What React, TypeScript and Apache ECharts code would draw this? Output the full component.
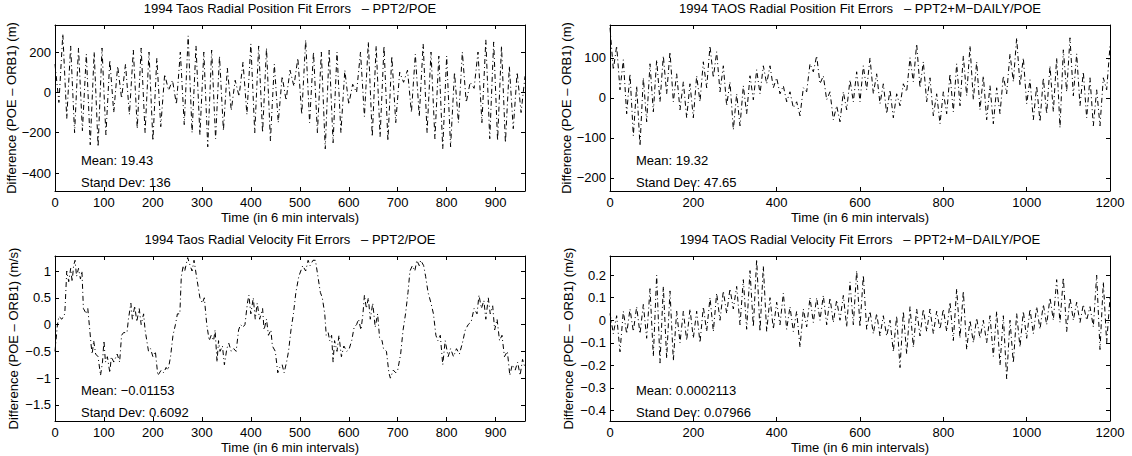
import React, { useEffect, useRef } from "react";
import * as echarts from "echarts";

// ---------- data ----------
const STEP = 8; // sampling step (6-min intervals) of the uniform series

const posPPT2: number[] = [
  140, -50, 290, -130, 230, -200, 220, -190, 190, -260, 200, -270, 220, -210, 160, -100,
  130, -30, 140, -110, 210, -180, 220, -200, 200, -240, 170, -170, 90, 10, 60, -60,
  200, -160, 280, -200, 230, -210, 200, -270, 210, -230, 180, -190, 120, -90, 60, -20,
  150, -110, 240, -200, 230, -200, 220, -240, 140, -150, 80, -40, 110, 30, 170, -110,
  260, -150, 200, -200, 200, -280, 210, -250, 200, -200, 110, -60, 40, 0, 200, -120,
  250, -220, 230, -220, 230, -240, 180, -150, 100, 50, 110, -100, 190, -120, 240, -200,
  200, -230, 180, -280, 180, -270, 100, -150, 200, -50, 50, 20, 200, -150, 260, -230,
  250, -240, 230, -250, 130, -180, 100, -100, 80,
];

const posDaily: number[] = [
  175, 70, 130, 20, 95, -40, 60, -95, 30, -120, 50, -60, 85, -35, 95, -10,
  105, 10, 115, -10, 60, -30, 40, -50, 35, -50, 55, -10, 90, 25, 130, 50,
  115, 15, 80, -20, 40, -80, 10, -70, 30, -40, 55, -5, 70, 10, 80, 35,
  80, 25, 50, 10, 30, -10, 15, -25, -10, -45, 25, 15, 85, 65, 105, 35,
  55, -5, 15, -55, -20, -60, 15, -30, 45, -10, 65, -10, 80, 20, 100, 10,
  60, -15, 35, -40, 20, -50, 10, -20, 35, 15, 100, 40, 135, 25, 90, -10,
  50, -45, 10, -65, 15, -40, 60, -35, 85, -20, 105, 5, 130, -5, 90, -30,
  55, -55, 30, -65, 25, -40, 55, 10, 110, 40, 150, 30, 100, -15, 45, -55,
  30, -60, 50, -40, 80, -35, 100, -75, 120, 15, 150, 5, 110, -20, 65, -50,
  50, -70, 20, -70, 50, 20, 130,
];

const velX: number[] = [
  0, 5, 8, 14, 20, 24, 28, 32, 35, 38, 41, 44, 48, 52, 55, 58, 64, 67, 74, 76, 79, 83, 88, 93, 97,
  100, 103, 107, 112, 115, 120, 127, 132, 136, 140, 147, 150, 155, 158, 163, 167, 172, 176, 181, 184,
  191, 195, 200, 205, 210, 217, 222, 227, 231, 236, 241, 246, 250, 255, 258, 262, 265, 271, 276, 280,
  284, 289, 296, 301, 305, 310, 315, 319, 324, 327, 331, 334, 337, 342, 346, 351, 355, 360, 365, 370,
  375, 379, 384, 388, 393, 396, 400, 405, 409, 413, 418, 424, 427, 432, 436, 441, 444, 450, 455, 459,
  464, 468, 473, 477, 482, 487, 492, 498, 502, 506, 512, 517, 521, 527, 532, 537, 542, 546, 551, 554,
  558, 561, 565, 568, 571, 576, 580, 585, 590, 596, 601, 606, 611, 616, 620, 625, 629, 632, 636, 640,
  644, 649, 654, 659, 663, 668, 671, 677, 682, 685, 691, 696, 700, 706, 711, 716, 721, 725, 730, 735,
  739, 744, 747, 753, 757, 762, 768, 773, 778, 782, 787, 792, 797, 803, 808, 814, 820, 826, 832, 838,
  844, 850, 856, 862, 866, 871, 876, 880, 885, 889, 894, 898, 903, 908, 913, 918, 924, 929, 934, 940,
  945, 950, 955, 960,
];
const velY: number[] = [
  -0.5, 0.0, 0.15, 0.1, 0.2, 1.0, 0.8, 1.05, 0.8, 1.1, 1.2, 0.9, 1.05, 0.85, 1.0, 0.3, 0.2, 0.3, -0.4, -0.55, -0.3, -0.55, -0.6, -0.95, -0.7,
  -0.3, -0.7, -0.6, -0.9, -0.6, -0.7, -0.55, -0.7, -0.2, -0.15, -0.15, 0.1, 0.4, 0.1, 0.35, 0.05, 0.3, 0.0, 0.2, -0.1,
  -0.5, -0.45, -0.6, -0.5, -0.95, -0.85, -0.9, -0.8, -0.85, -0.6, -0.2, 0.0, 0.2, 0.2, 0.9, 1.1, 1.0, 1.25, 1.1, 1.0,
  1.2, 0.9, 0.5, 0.4, 0.5, 0.0, -0.3, -0.2, -0.3, -0.1, -0.7, -0.3, -0.5, -0.4, -0.75, -0.45, -0.35, -0.5, -0.45, -0.5,
  -0.1, 0.0, -0.05, 0.0, 0.4, 0.55, 0.2, 0.5, 0.1, 0.4, 0.1, 0.3, -0.1, 0.1, -0.2, -0.1, -0.4, -0.5, -0.9, -0.8,
  -0.75, -0.9, -0.7, -0.5, -0.1, 0.2, 0.6, 0.9, 1.0, 1.1, 1.0, 1.2, 1.1, 1.2, 1.2, 0.9, 0.6, 0.5, 0.2, -0.2,
  -0.15, -0.3, -0.2, -0.7, -0.3, -0.5, -0.2, -0.6, -0.4, -0.5, -0.45, -0.3, -0.05, 0.0, 0.1, -0.1, 0.2, 0.55, 0.3, 0.5,
  0.1, 0.4, -0.05, 0.2, -0.25, -0.3, -0.45, -0.5, -0.9, -1.0, -0.85, -0.9, -0.85, -0.55, -0.1, 0.2, 0.6, 1.0, 1.1, 1.0,
  1.2, 1.1, 1.2, 1.1, 0.9, 0.6, 0.4, 0.2, -0.2, -0.3, -0.2, -0.75, -0.3, -0.6, -0.45, -0.6, -0.45, -0.55, -0.35, -0.1,
  0.0, 0.05, 0.3, 0.2, 0.55, 0.3, 0.45, 0.1, 0.5, 0.2, 0.35, -0.1, 0.1, -0.3, -0.2, -0.6, -0.5, -0.95, -0.75, -0.85,
  -0.7, -0.95, -0.65, -0.8,
];

const velDaily: number[] = [
  0.03, -0.06, 0.02, -0.14, 0.04, -0.06, 0.05, -0.05, 0.06, -0.06, 0.07, -0.08, 0.14, -0.16, 0.2, -0.19,
  0.15, -0.17, 0.13, -0.18, 0.04, -0.1, 0.04, -0.09, 0.05, -0.08, 0.04, -0.1, 0.06, -0.05, 0.1, -0.05,
  0.12, 0.0, 0.13, 0.03, 0.14, 0.05, 0.15, -0.02, 0.18, -0.04, 0.22, -0.03, 0.27, -0.05, 0.24, -0.05,
  0.1, -0.04, 0.08, -0.02, 0.12, -0.04, 0.06, -0.05, 0.04, -0.12, 0.05, -0.03, 0.1, -0.01, 0.1, 0.0,
  0.11, -0.02, 0.1, -0.01, 0.09, 0.0, 0.11, -0.03, 0.17, -0.02, 0.22, -0.03, 0.2, -0.04, 0.04, -0.06,
  0.03, -0.07, 0.02, -0.07, 0.0, -0.14, 0.02, -0.21, 0.04, -0.15, 0.06, -0.12, 0.05, -0.07, 0.05, -0.05,
  0.05, -0.06, 0.04, -0.04, 0.05, -0.05, 0.08, -0.09, 0.14, -0.08, 0.13, -0.13, 0.0, -0.1, 0.01, -0.08,
  0.0, -0.1, 0.02, -0.16, 0.04, -0.2, 0.02, -0.26, 0.0, -0.19, 0.03, -0.12, 0.04, -0.08, 0.05, -0.06,
  0.06, -0.04, 0.07, -0.02, 0.1, 0.0, 0.18, -0.01, 0.19, -0.05, 0.1, 0.0, 0.08, -0.01, 0.07, 0.0,
  0.06, -0.03, 0.2, -0.13, 0.17, -0.1, 0.1,
];

const xTicksShort = [0, 100, 200, 300, 400, 500, 600, 700, 800, 900];
const xTicksLong = [0, 200, 400, 600, 800, 1000, 1200];
const yTicksPos = [-400, -200, 0, 200];
const yTicksPosDaily = [-200, -100, 0, 100];
const yTicksVel = [-1.5, -1, -0.5, 0, 0.5, 1];
const yTicksVelDaily = [-0.4, -0.3, -0.2, -0.1, 0, 0.1, 0.2];

const titles = [
  "1994 Taos Radial Position Fit Errors   \u2013 PPT2/POE",
  "1994 TAOS Radial Position Fit Errors   \u2013 PPT2+M\u2212DAILY/POE",
  "1994 Taos Radial Velocity Fit Errors   \u2013 PPT2/POE",
  "1994 TAOS Radial Velocity Fit Errors   \u2013 PPT2+M\u2212DAILY/POE",
];
const yNames = [
  "Difference (POE \u2013 ORB1) (m)",
  "Difference (POE \u2013 ORB1) (m)",
  "Difference (POE \u2013 ORB1) (m/s)",
  "Difference (POE \u2013 ORB1) (m/s)",
];
const meanTexts = ["Mean: 19.43", "Mean: 19.32", "Mean: \u22120.01153", "Mean: 0.0002113"];
const stdTexts = ["Stand Dev: 136", "Stand Dev: 47.65", "Stand Dev: 0.6092", "Stand Dev: 0.07966"];
const xLabel = "Time (in 6 min intervals)";

// ---------- layout ----------
const FONT = '"Liberation Sans", Arial, Helvetica, sans-serif';
const FS = 13;
const GRIDS = [
  { left: 55, top: 25, width: 470, height: 166 },
  { left: 610, top: 25, width: 500, height: 166 },
  { left: 55, top: 256, width: 470, height: 165 },
  { left: 610, top: 256, width: 500, height: 165 },
];
const X_RANGES = [
  [0, 960],
  [0, 1200],
  [0, 960],
  [0, 1200],
];
const Y_RANGES = [
  [-489, 334],
  [-233, 182],
  [-1.8, 1.28],
  [-0.447, 0.285],
];

export default function App() {
  const ref = useRef<HTMLDivElement>(null);

  useEffect(() => {
    if (!ref.current) return;
    const chart = echarts.init(ref.current, undefined, { renderer: "svg" });

    const uniform = (vals: number[]) => vals.map((v, i) => [i * STEP, v]);
    const seriesData = [
      uniform(posPPT2),
      uniform(posDaily),
      velX.map((x, i) => [x, velY[i]]),
      uniform(velDaily),
    ];
    const xTicks = [xTicksShort, xTicksLong, xTicksShort, xTicksLong];
    const yTicks = [yTicksPos, yTicksPosDaily, yTicksVel, yTicksVelDaily];

    const fmt = (v: number) => String(v).replace("-", "\u2212");
    const axisLine = { show: true, onZero: false, lineStyle: { color: "#000", width: 1 } };
    const tick = (vals: number[]) => ({
      show: true,
      inside: true,
      length: 4,
      customValues: vals,
      lineStyle: { color: "#000", width: 1 },
    });

    const xAxis: any[] = [];
    const yAxis: any[] = [];
    const series: any[] = [];
    const graphic: any[] = [];

    GRIDS.forEach((g, i) => {
      xAxis.push({
        type: "value",
        gridIndex: i,
        position: "bottom",
        min: X_RANGES[i][0],
        max: X_RANGES[i][1],
        axisLine,
        axisTick: tick(xTicks[i]),
        axisLabel: {
          customValues: xTicks[i],
          formatter: fmt,
          color: "#000",
          fontFamily: FONT,
          fontSize: FS,
          margin: 5,
        },
        splitLine: { show: false },
        name: xLabel,
        nameLocation: "middle",
        nameGap: 20,
        nameTextStyle: { color: "#000", fontFamily: FONT, fontSize: FS },
      });
      xAxis.push({
        type: "value",
        gridIndex: i,
        position: "top",
        min: X_RANGES[i][0],
        max: X_RANGES[i][1],
        axisLine,
        axisTick: tick(xTicks[i]),
        axisLabel: { show: false, customValues: xTicks[i] },
        splitLine: { show: false },
      });
      yAxis.push({
        type: "value",
        gridIndex: i,
        position: "left",
        min: Y_RANGES[i][0],
        max: Y_RANGES[i][1],
        axisLine,
        axisTick: tick(yTicks[i]),
        axisLabel: {
          customValues: yTicks[i],
          formatter: fmt,
          color: "#000",
          fontFamily: FONT,
          fontSize: FS,
          margin: 4,
        },
        splitLine: { show: false },
        name: yNames[i],
        nameLocation: "middle",
        nameRotate: 90,
        nameGap: 35,
        nameTextStyle: { color: "#000", fontFamily: FONT, fontSize: FS },
      });
      yAxis.push({
        type: "value",
        gridIndex: i,
        position: "right",
        min: Y_RANGES[i][0],
        max: Y_RANGES[i][1],
        axisLine,
        axisTick: tick(yTicks[i]),
        axisLabel: { show: false, customValues: yTicks[i] },
        splitLine: { show: false },
      });

      series.push({
        type: "line",
        xAxisIndex: i * 2,
        yAxisIndex: i * 2,
        data: seriesData[i],
        showSymbol: false,
        symbol: "none",
        clip: true,
        lineStyle: { color: "#000", width: 1, type: [5, 3, 1, 3] },
      });

      const cx = g.left + g.width / 2;
      const bottom = g.top + g.height;
      const textStyle = (text: string, align: string) => ({
        text,
        fill: "#000",
        font: `${FS}px ${FONT}`,
        align,
        verticalAlign: "middle",
        textAlign: align,
        textVerticalAlign: "middle",
      });
      graphic.push({ type: "text", x: cx, y: g.top - 17, style: textStyle(titles[i], "center") });
      graphic.push({ type: "text", x: g.left + 26, y: bottom - 31, style: textStyle(meanTexts[i], "left") });
      graphic.push({ type: "text", x: g.left + 26, y: bottom - 9, style: textStyle(stdTexts[i], "left") });
    });

    chart.setOption({
      animation: false,
      backgroundColor: "#fff",
      grid: GRIDS.map((g) => ({ ...g, containLabel: false })),
      xAxis,
      yAxis,
      series,
      graphic,
    });

    return () => chart.dispose();
  }, []);

  return (
    <div
      ref={ref}
      style={{ position: "fixed", left: 0, top: 0, width: 1132, height: 456, background: "#fff" }}
    />
  );
}
